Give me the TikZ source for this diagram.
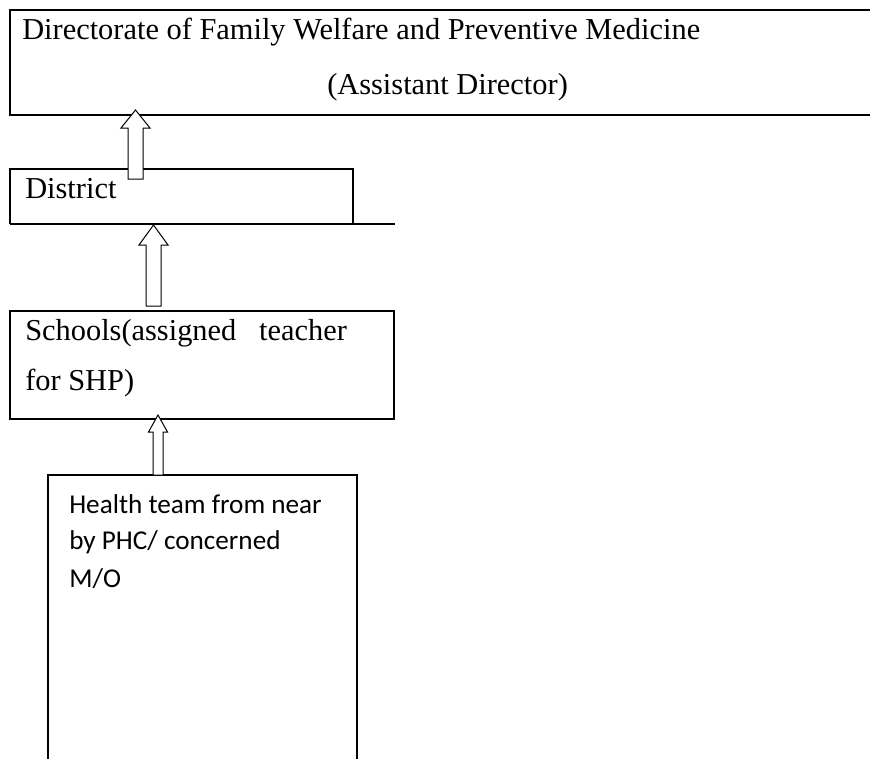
\documentclass[tikz,border=0pt]{standalone}
\usepackage{fontspec}
\setmainfont{Liberation Serif}
\newfontfamily\calfont{Carlito}
\begin{document}
\begin{tikzpicture}[x=0.75pt,y=-0.75pt,
  boxthick/.style={line width=1.5pt},
  boxthin/.style={line width=0.9pt},
  blockarrow/.style={draw,fill=white,line width=0.75pt,line join=miter},
  serif/.style={font=\fontsize{22.8}{27}\selectfont,inner sep=0pt,anchor=base west},
  sans/.style={font=\calfont\fontsize{20.4}{24}\selectfont,inner sep=0pt,anchor=base west}]
\useasboundingbox (0,0) rectangle (870,758);
% top box (open on the right)
\coordinate (dtl) at (10,10);
\coordinate (dbl) at (10,115);
\draw[boxthick] (880,10) -- (dtl) -- (dbl) -- (880,115);
\node[serif] (dirA) at (22,39) {Directorate of Family Welfare and Preventive Medicine};
\node[serif] (dirB) at (327,94) {(Assistant Director)};
% district box
\draw[boxthin] (10,224) -- (10,169) -- (353,169) -- (353,224);
\draw[boxthin] (10,224) -- (395,224);
\node[serif] (dist) at (25,198) {District};
% schools box
\draw[boxthick] (10,311) rectangle (394,419);
\node[serif] (sch1) at (25,340) {Schools(assigned\ \ \ teacher};
\node[serif] (sch2) at (25,390) {for SHP)};
% health box (open at the bottom)
\draw[boxthin] (48,770) -- (48,475) -- (357,475) -- (357,770);
\node[sans] (h1) at (69,513) {Health team from near};
\node[sans] (h2) at (69,549) {by PHC/ concerned};
\node[sans] (h3) at (69,587) {M/O};
% block arrows: centre x, bottom y, tip y, shaft half width, head half width, head base y
\newcommand\blockarr[6]{%
  \draw[blockarrow] (#1-#4,#2) -- (#1-#4,#6) -- (#1-#5,#6) -- (#1,#3) -- (#1+#5,#6) -- (#1+#4,#6) -- (#1+#4,#2) -- cycle;}
\blockarr{135.5}{179}{110}{7.5}{14.5}{128}
\blockarr{153.5}{306}{225}{7.5}{14.5}{245}
\blockarr{158}{475}{415}{5}{9.5}{432}
\end{tikzpicture}
\end{document}
